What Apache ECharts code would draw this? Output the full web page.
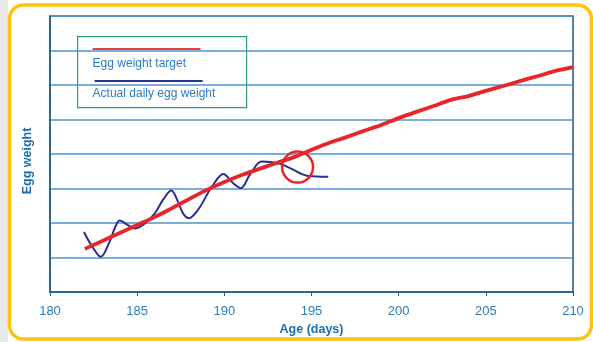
<!DOCTYPE html>
<html>
<head>
<meta charset="utf-8">
<script src="https://cdn.jsdelivr.net/npm/echarts@6/dist/echarts.min.js"></script>
<style>
  html, body { margin: 0; padding: 0; background: #ffffff; }
  #chart { width: 593px; height: 342px; }
</style>
</head>
<body>
<div id="chart"></div>
<script>
// Age in days and egg weight (relative units, one unit per gridline)
const targetDays = [182, 183, 184, 185, 186, 187, 188, 189, 190, 191, 192, 193, 194, 195, 196,
                    197, 198, 199, 200, 201, 202, 203, 204, 205, 206, 207, 208, 209, 210];
const targetWeight = [1.25, 1.48, 1.71, 1.94, 2.17, 2.43, 2.70, 2.96, 3.19, 3.39, 3.57, 3.74, 3.91, 4.12, 4.32,
                      4.49, 4.67, 4.84, 5.04, 5.22, 5.39, 5.57, 5.68, 5.83, 5.97, 6.12, 6.26, 6.41, 6.52];

// Daily readings, sampled along the recorded curve
const actualDays = [181.95, 182.37, 182.91, 183.42, 183.71, 184.0, 184.47, 184.86, 185.43, 186.0,
                    186.48, 186.96, 187.34, 187.63, 187.97, 188.49, 189.06, 189.28, 189.94, 190.51,
                    190.94, 191.47, 192.14, 193.1, 193.77, 194.82, 195.96];
const actualWeight = [1.74, 1.36, 1.02, 1.46, 1.84, 2.07, 1.94, 1.84, 1.98, 2.27,
                      2.67, 2.94, 2.62, 2.28, 2.14, 2.38, 2.87, 3.05, 3.42, 3.15,
                      3.01, 3.40, 3.78, 3.73, 3.59, 3.36, 3.34];

// Point singled out on the chart
const highlightDay = [194.2];
const highlightWeight = [3.62];

const xTicks = [180, 185, 190, 195, 200, 205, 210];
const seriesNames = ['Egg weight target', 'Actual daily egg weight'];

const chart = echarts.init(document.getElementById('chart'), null, { renderer: 'canvas' });

const zip = (xs, ys) => xs.map((x, i) => [x, ys[i]]);

const labelBlue = '#2a7dc2';
const titleBlue = '#1b6db3';
const axisDark = '#1f5a8a';
const font = 'Liberation Sans, Arial, sans-serif';

chart.setOption({
  animation: false,
  backgroundColor: '#ffffff',
  textStyle: { fontFamily: font },
  grid: {
    left: 50, right: 20, top: 16, bottom: 50,
    show: true, borderColor: axisDark, borderWidth: 1.5, backgroundColor: 'transparent'
  },
  xAxis: {
    type: 'value',
    min: xTicks[0], max: xTicks[xTicks.length - 1], interval: 5,
    name: 'Age (days)', nameLocation: 'middle', nameGap: 30,
    nameTextStyle: { color: titleBlue, fontWeight: 'bold', fontSize: 12.5 },
    axisLine: { lineStyle: { color: axisDark, width: 1.5 } },
    axisTick: { show: true, length: 4, lineStyle: { color: axisDark } },
    axisLabel: { color: labelBlue, fontSize: 13, margin: 13 },
    splitLine: { show: false }
  },
  yAxis: {
    type: 'value', min: 0, max: 8, interval: 1,
    name: 'Egg weight', nameLocation: 'middle', nameGap: 16,
    nameTextStyle: { color: titleBlue, fontWeight: 'bold', fontSize: 12.5, padding: [0, 14, 0, 0] },
    axisLine: { show: true, lineStyle: { color: axisDark, width: 1.5 } },
    axisTick: { show: false },
    axisLabel: { show: false },
    splitLine: { lineStyle: { color: '#4f95cf', width: 1.5 } }
  },
  series: [
    {
      name: seriesNames[0], type: 'line', data: zip(targetDays, targetWeight),
      showSymbol: false, smooth: 0.3, z: 3,
      lineStyle: { color: '#e8262a', width: 3.8 }
    },
    {
      name: seriesNames[1], type: 'line', data: zip(actualDays, actualWeight),
      showSymbol: false, smooth: 0.35, z: 2,
      lineStyle: { color: '#2b2f8f', width: 2 }
    },
    {
      name: 'highlight', type: 'scatter', data: zip(highlightDay, highlightWeight),
      symbol: 'circle', symbolSize: 31, z: 4, silent: true,
      itemStyle: { color: 'rgba(0,0,0,0)', borderColor: '#e8262a', borderWidth: 2.5, opacity: 1 }
    }
  ],
  graphic: [
    // page frame
    {
      type: 'rect', left: 0, top: 0, silent: true, z: -10,
      shape: { x: 0, y: 0, width: 8, height: 342 },
      style: { fill: '#e9e9e9' }
    },
    {
      type: 'rect', silent: true, z: -5,
      shape: { x: 9.5, y: 5, width: 582, height: 334, r: 14 },
      style: { fill: 'transparent', stroke: '#ffc20e', lineWidth: 3.5 }
    },
    // key box
    {
      type: 'group', left: 77, top: 36, z: 10,
      children: [
        {
          type: 'rect', shape: { x: 0, y: 0, width: 169, height: 71 },
          style: { fill: '#ffffff', stroke: '#2e9a82', lineWidth: 1.2 }
        },
        {
          type: 'line', shape: { x1: 15, y1: 12.5, x2: 123, y2: 12.5 },
          style: { stroke: '#e8403a', lineWidth: 2 }
        },
        {
          type: 'text', x: 15, y: 21,
          style: { text: seriesNames[0], fill: labelBlue, fontSize: 12, fontFamily: font }
        },
        {
          type: 'line', shape: { x1: 17, y1: 44.5, x2: 125, y2: 44.5 },
          style: { stroke: '#2b2f8f', lineWidth: 2 }
        },
        {
          type: 'text', x: 15, y: 51,
          style: { text: seriesNames[1], fill: labelBlue, fontSize: 12, fontFamily: font }
        }
      ]
    }
  ]
});
</script>
</body>
</html>
